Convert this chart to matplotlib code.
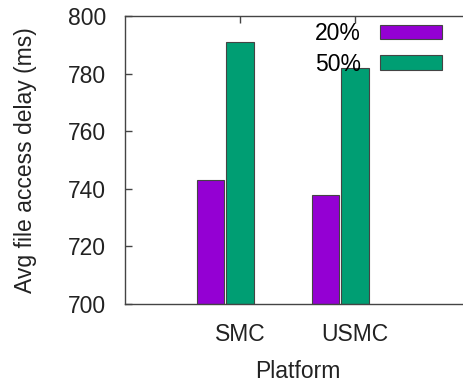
import numpy as np
import matplotlib
matplotlib.use('Agg')
import matplotlib.pyplot as plt
from matplotlib.patches import Patch

platforms = ['SMC', 'USMC']
series_labels = ['20%', '50%']
delay_20 = [743, 738]
delay_50 = [791, 782]

colors = ['#9400d3', '#009e73']
text_color = '#222222'
border_color = '#444444'

plt.rcParams['font.family'] = ['Liberation Sans', 'DejaVu Sans']

W, H = 464, 386
fig = plt.figure(figsize=(W / 100, H / 100), dpi=100)
# plot area in pixels: left 125, right 470 (just past the canvas), top 16, bottom 304
ax = fig.add_axes([125 / W, (H - 304) / H, (470 - 125) / W, (304 - 16) / H])

x = np.arange(len(platforms))
width = 0.235
offsets = [-0.255, 0.0]
for vals, off, col, lab in zip([delay_20, delay_50], offsets, colors, series_labels):
    ax.bar(x + off, np.array(vals) - 700, width, bottom=700, color=col,
           edgecolor=border_color, linewidth=0.8, label=lab, zorder=1)

ax.set_xlim(-1, 2)
ax.set_ylim(700, 800)
ax.set_yticks(np.arange(700, 801, 20))
ax.set_xticks(x)
ax.set_xticklabels(platforms)

for s in ax.spines.values():
    s.set_color(border_color)
    s.set_linewidth(1.0)
ax.spines['right'].set_visible(False)

ax.tick_params(axis='y', direction='in', length=5, width=1.0, color=border_color,
               labelsize=16.5, labelcolor=text_color, pad=13.5)
ax.tick_params(axis='x', direction='in', labelsize=16.5, labelcolor=text_color,
               pad=14, top=True, bottom=False, length=5, width=1.0,
               color=border_color)

ax.set_xlabel('Platform', fontsize=16.5, color=text_color, labelpad=10)
ax.set_ylabel('Avg file access delay (ms)', fontsize=16.5, color=text_color, labelpad=22)

handles = [Patch(facecolor=c, edgecolor=border_color, linewidth=0.8) for c in colors]
ax.legend(handles, series_labels, loc='upper right', frameon=False, markerfirst=False,
          fontsize=16.5, handlelength=2.7, handleheight=0.61, handletextpad=0.85,
          labelspacing=0.33, borderpad=0, borderaxespad=0,
          bbox_to_anchor=(442 / W, (H - 22) / H), bbox_transform=fig.transFigure)

fig.savefig('out.png', dpi=100)
